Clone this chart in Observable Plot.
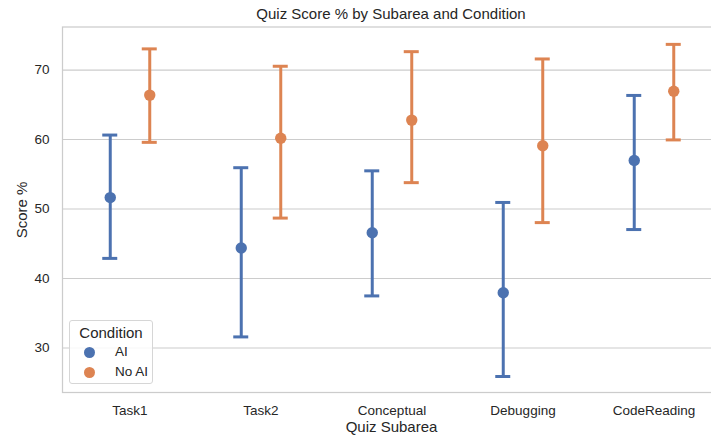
<!DOCTYPE html>
<html>
<head>
<meta charset="utf-8">
<script src="https://cdn.jsdelivr.net/npm/d3@7"></script>
<script src="https://cdn.jsdelivr.net/npm/@observablehq/plot@0.6"></script>
<style>
  html, body { margin: 0; padding: 0; background: #fff; }
  #wrap { position: relative; width: 711px; height: 438px; overflow: hidden; font-family: "Liberation Sans", Arial, sans-serif; color: #262626; }
  .ov { position: absolute; white-space: nowrap; }
  #title { left: 391px; top: 5px; transform: translateX(-50%); font-size: 15px; }
  #xlabel { left: 391.5px; top: 418px; transform: translateX(-50%); font-size: 15px; }
  #ylabel { left: 21px; top: 210px; transform: translate(-50%, -50%) rotate(-90deg); font-size: 15px; }
  #legend { left: 69px; top: 320px; width: 84px; height: 64px; border: 1px solid #d6d6d6; border-radius: 3px; background: rgba(255,255,255,0.85); box-sizing: border-box; }
  #legend .lt { position: absolute; left: 0; width: 100%; text-align: center; top: 3px; font-size: 15px; }
  #legend .row { position: absolute; left: 0; font-size: 13.5px; }
  #legend .sw { position: absolute; width: 11px; height: 11px; border-radius: 50%; }
</style>
</head>
<body>
<div id="wrap"></div>
<script>
const categories = ["Task1", "Task2", "Conceptual", "Debugging", "CodeReading"];
const conditions = ["AI", "No AI"];
const colors = ["#4C72B0", "#DD8452"];
const aiMean = [51.65, 44.4, 46.6, 37.95, 57.0];
const aiLow  = [42.9, 31.6, 37.5, 25.9, 47.05];
const aiHigh = [60.65, 55.95, 55.5, 50.95, 66.35];
const noMean = [66.4, 60.2, 62.8, 59.1, 66.95];
const noLow  = [59.6, 48.7, 53.8, 48.05, 59.95];
const noHigh = [73.05, 70.55, 72.65, 71.6, 73.7];
const yTicks = [30, 40, 50, 60, 70];

const rows = categories.flatMap((c, i) => [
  {cat: c, cond: "AI", mean: aiMean[i], lo: aiLow[i], hi: aiHigh[i]},
  {cat: c, cond: "No AI", mean: noMean[i], lo: noLow[i], hi: noHigh[i]}
]);

const dodge = {"AI": -19.75, "No AI": 19.75};
const condMarks = conditions.flatMap(cond => {
  const d = rows.filter(r => r.cond === cond);
  const dx = dodge[cond];
  return [
    Plot.ruleX(d, {x: "cat", y1: "lo", y2: "hi", stroke: "cond", strokeWidth: 3, dx}),
    Plot.tickY(d, {x: "cat", y: "lo", stroke: "cond", strokeWidth: 3, insetLeft: 58, insetRight: 58, dx}),
    Plot.tickY(d, {x: "cat", y: "hi", stroke: "cond", strokeWidth: 3, insetLeft: 58, insetRight: 58, dx}),
    Plot.dot(d, {x: "cat", y: "mean", fill: "cond", r: 5.7, dx})
  ];
});

const chart = Plot.plot({
  width: 711,
  height: 438,
  marginTop: 26.5,
  marginBottom: 46,
  marginLeft: 62,
  marginRight: -10,
  style: {fontFamily: "'Liberation Sans', Arial, sans-serif", fontSize: "13.5px", color: "#262626", background: "transparent"},
  x: {type: "band", domain: categories, padding: 0, label: null},
  y: {domain: [23.6, 76.2], label: null},
  color: {domain: conditions, range: colors},
  marks: [
    Plot.gridY(yTicks, {stroke: "#cccccc", strokeOpacity: 1, strokeWidth: 1.1}),
    Plot.frame({stroke: "#cccccc", strokeWidth: 1.25}),
    Plot.axisY(yTicks, {tickSize: 0, tickPadding: 13, fontSize: 13.5, label: null}),
    Plot.axisX({tickSize: 0, tickPadding: 13, fontSize: 13.5, label: null}),
    ...condMarks
  ]
});

const wrap = document.getElementById("wrap");
wrap.appendChild(chart);

function addDiv(id, text) {
  const d = document.createElement("div");
  d.className = "ov"; d.id = id; d.textContent = text;
  wrap.appendChild(d);
  return d;
}
addDiv("title", "Quiz Score % by Subarea and Condition");
addDiv("xlabel", "Quiz Subarea");
addDiv("ylabel", "Score %");

const leg = document.createElement("div");
leg.className = "ov"; leg.id = "legend";
const lt = document.createElement("div");
lt.className = "lt"; lt.textContent = "Condition";
leg.appendChild(lt);
conditions.forEach((c, i) => {
  const sw = document.createElement("div");
  sw.className = "sw";
  sw.style.background = colors[i];
  sw.style.left = (88.7 - 69 - 5.5) + "px";
  sw.style.top = (32 + i * 20 - 5.5 - 1) + "px";
  leg.appendChild(sw);
  const t = document.createElement("div");
  t.className = "row";
  t.textContent = c;
  t.style.left = (114 - 69) + "px";
  t.style.top = (32 + i * 20 - 9) + "px";
  leg.appendChild(t);
});
wrap.appendChild(leg);
</script>
</body>
</html>
